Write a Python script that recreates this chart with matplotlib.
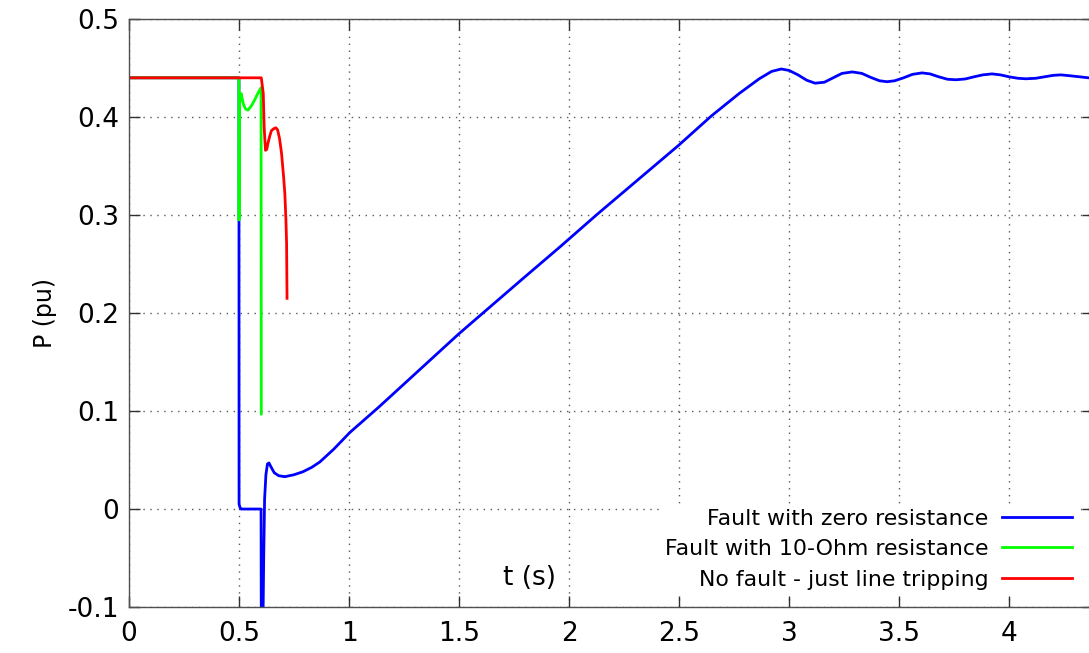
import matplotlib
matplotlib.use("Agg")
import matplotlib.pyplot as plt

plt.rcParams["font.family"] = "DejaVu Sans"
plt.rcParams["axes.unicode_minus"] = False

# power transfer after the disturbance at t = 0.5 s, line trip at t = 0.6 s
t_zero = [0.0, 0.4995, 0.500, 0.505, 0.510, 0.600, 0.602, 0.612, 0.616, 0.622,
          0.629, 0.636, 0.645, 0.660, 0.680, 0.708, 0.750, 0.790, 0.830, 0.867,
          0.930, 1.003, 1.135, 1.500, 1.784, 1.956, 2.129, 2.497, 2.646, 2.773,
          2.864, 2.920, 2.964, 3.000, 3.040, 3.080, 3.118, 3.160, 3.200, 3.240,
          3.287, 3.330, 3.370, 3.410, 3.445, 3.480, 3.520, 3.560, 3.604, 3.640,
          3.680, 3.720, 3.758, 3.800, 3.840, 3.880, 3.922, 3.960, 4.000, 4.040,
          4.076, 4.120, 4.160, 4.200, 4.235, 4.280, 4.320, 4.380]
p_zero = [0.440, 0.440, 0.005, 0.001, 0.000, 0.000, -0.250, -0.050, 0.010, 0.035,
          0.046, 0.047, 0.043, 0.037, 0.034, 0.033, 0.035, 0.038, 0.0425, 0.048,
          0.061, 0.078, 0.104, 0.179, 0.234, 0.267, 0.301, 0.371, 0.401, 0.424,
          0.439, 0.4465, 0.449, 0.4475, 0.443, 0.4375, 0.4345, 0.4355, 0.440, 0.4445,
          0.446, 0.4445, 0.4405, 0.437, 0.436, 0.437, 0.440, 0.4435, 0.445, 0.444,
          0.441, 0.4385, 0.438, 0.4388, 0.441, 0.443, 0.444, 0.443, 0.441, 0.4395,
          0.439, 0.4395, 0.441, 0.4425, 0.443, 0.442, 0.441, 0.4395]

t_10ohm = [0.0, 0.4995, 0.500, 0.5015, 0.505, 0.509, 0.520, 0.530, 0.540,
           0.555, 0.570, 0.585, 0.600, 0.601]
p_10ohm = [0.440, 0.440, 0.295, 0.424, 0.416, 0.424, 0.413, 0.408, 0.407,
           0.411, 0.417, 0.424, 0.430, 0.097]

t_trip = [0.0, 0.601, 0.610, 0.614, 0.620, 0.626, 0.631, 0.640, 0.647, 0.657,
          0.667, 0.675, 0.684, 0.693, 0.702, 0.708, 0.713, 0.716, 0.718]
p_trip = [0.440, 0.440, 0.424, 0.390, 0.366, 0.367, 0.373, 0.381, 0.386, 0.388,
          0.389, 0.387, 0.378, 0.363, 0.340, 0.322, 0.295, 0.271, 0.215]

labels = ["Fault with zero resistance",
          "Fault with 10-Ohm resistance",
          "No fault - just line tripping"]

x_ticks = [0, 0.5, 1, 1.5, 2, 2.5, 3, 3.5, 4]
x_ticklabels = ["0", "0.5", "1", "1.5", "2", "2.5", "3", "3.5", "4"]
y_ticks = [-0.1, 0, 0.1, 0.2, 0.3, 0.4, 0.5]
y_ticklabels = ["-0.1", "0", "0.1", "0.2", "0.3", "0.4", "0.5"]

fig = plt.figure(figsize=(10.89, 6.53), dpi=100)
ax = fig.add_axes([0.1185, 0.0704, 0.885, 0.9005])

ax.plot(t_zero, p_zero, color="#0000ff", lw=2, label=labels[0])
ax.plot(t_10ohm, p_10ohm, color="#00ff00", lw=2, label=labels[1])
ax.plot(t_trip, p_trip, color="#ff0000", lw=2, label=labels[2])

ax.set_xlim(0, 4.38)
ax.set_ylim(-0.1, 0.5)
ax.set_xticks(x_ticks)
ax.set_xticklabels(x_ticklabels)
ax.set_yticks(y_ticks)
ax.set_yticklabels(y_ticklabels)
ax.tick_params(direction="in", length=8, width=1, labelsize=19,
               top=True, right=True, color="#303030")
ax.tick_params(axis="x", pad=10)
ax.tick_params(axis="y", pad=7)
for s in ax.spines.values():
    s.set_color("#505050")
    s.set_linewidth(1)

ax.grid(True, color="0.35", lw=1, linestyle=(0, (1, 4)))
ax.set_axisbelow(True)

ax.set_ylabel("P (pu)", fontsize=17, labelpad=8)
ax.text(1.82, -0.07, "t (s)", fontsize=19, ha="center", va="center")

leg = ax.legend(loc="lower right", bbox_to_anchor=(0.983, 0.022),
                markerfirst=False, frameon=True, fancybox=False,
                edgecolor="none", framealpha=1, fontsize=15.8,
                handlelength=3.2, handletextpad=0.6, labelspacing=0.48,
                borderpad=0.2, borderaxespad=0)
leg.get_frame().set_linewidth(0)

fig.savefig("out.png", dpi=100)
